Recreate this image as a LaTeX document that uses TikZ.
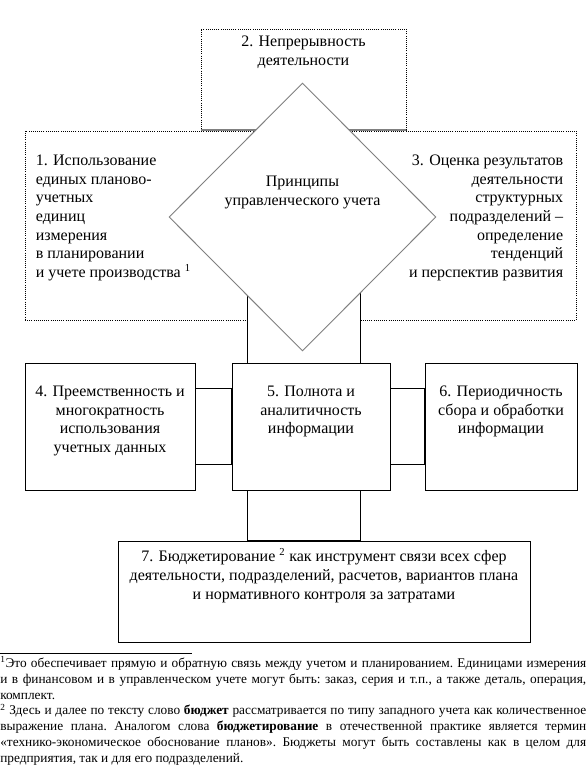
\documentclass[tikz,border=0pt]{standalone}
\usepackage{fontspec}
\setmainfont{Liberation Serif}
\usetikzlibrary{shapes.geometric, positioning, calc}
\newlength{\pxu}
\setlength{\pxu}{0.75pt}
\newcommand{\boxFont}{\fontsize{12}{14}\selectfont}
\newcommand{\noteFont}{\fontsize{10}{11.9}\selectfont\frenchspacing}
\pgfdeclarelayer{rows}
\pgfdeclarelayer{links}
\pgfsetlayers{rows,links,main}

\begin{document}
\begin{tikzpicture}[
        x=0.75pt, y=-0.75pt,
        dottedBox/.style={
            draw=black,
            densely dotted,
            fill=white,
            line width=0.6pt,
            inner sep=0pt
        },
        plainBox/.style={
            draw=black,
            fill=white,
            line width=0.6pt,
            inner sep=0pt
        },
        centerDiamond/.style={
            diamond,
            draw=gray,
            fill=white,
            line width=0.7pt,
            inner sep=0pt
        },
        linkFrame/.style={
            draw=black,
            fill=white,
            line width=0.6pt
        },
        boxText/.style={
            font=\boxFont,
            align=center,
            inner sep=0pt
        },
        noteText/.style={
            font=\noteFont,
            align=justify,
            text width=586\pxu,
            inner sep=0pt
        }
    ]

        \useasboundingbox (0,0) rectangle (586,768);

        % Upper row of principles
        \begin{pgfonlayer}{rows}
            \node[dottedBox, minimum width=205\pxu, minimum height=101\pxu] (b2) at (303.5,79.5) {};
            \node[dottedBox, minimum width=265\pxu, minimum height=189\pxu] (b1) at (157.5,225.5) {};
            \node[dottedBox, minimum width=260\pxu, minimum height=189\pxu] (b3) at (446,225.5) {};
            \draw[gray, line width=1.4pt] (b2.south west) -- (b2.south east);
        \end{pgfonlayer}

        % Central principle
        \node[centerDiamond,
            minimum width=267\pxu,
            minimum height=268\pxu] (dg) at (302.5,217) {};

        % Lower row of principles
        \node[plainBox, minimum width=170\pxu, minimum height=127\pxu] (b4) at (110,426.5) {};
        \node[plainBox, minimum width=158\pxu, minimum height=127\pxu] (b5) at (311,426.5) {};
        \node[plainBox, minimum width=152\pxu, minimum height=127\pxu] (b6) at (501,426.5) {};
        \node[plainBox, minimum width=412\pxu, minimum height=101\pxu] (b7) at (324,591.5) {};

        % Links between the boxes
        \begin{pgfonlayer}{links}
            \path[linkFrame] ($(dg.center)+(-55,0)$) rectangle ($(dg.center |- b7.north)+(58,0)$);
            \path[linkFrame] ($(b4.east)+(0,-38)$) rectangle ($(b5.west)+(0,38)$);
            \path[linkFrame] ($(b5.east)+(0,-38)$) rectangle ($(b6.west)+(0,38)$);
        \end{pgfonlayer}

        % Texts
        \node[boxText, below=7\pxu of b2.north] (t2) {2. Непрерывность\\деятельности};
        \node[boxText, align=left, below right=24\pxu and 11\pxu of b1.north west] (t1) {
            1. Использование\\единых планово-\\учетных\\единиц\\измерения\\в планировании\\и учете производства \textsuperscript{1}};
        \node[boxText, align=right, below left=24\pxu and 13\pxu of b3.north east] (t3) {
            3. Оценка результатов\\деятельности\\структурных\\подразделений –\\определение\\тенденций\\и перспектив развития};
        \node[boxText, above=8\pxu of dg.center] (tdg) {Принципы\\управленческого учета};
        \node[boxText, below=23\pxu of b4.north] (t4) {4. Преемственность и\\многократность\\использования\\учетных данных};
        \node[boxText, below=23\pxu of b5.north] (t5) {5. Полнота и\\аналитичность\\информации};
        \node[boxText, below=23\pxu of b6.north] (t6) {6. Периодичность\\сбора и обработки\\информации};
        \node[boxText, below=8\pxu of b7.north] (t7) {7. Бюджетирование \textsuperscript{2} как инструмент связи всех сфер\\деятельности, подразделений, расчетов, вариантов плана\\и нормативного контроля за затратами};

        % Footnotes
        \draw[line width=0.6pt] (0,653) -- (192,653);
        \node[noteText, anchor=north west] (notes) at (0,656) {\parindent=0pt\parskip=0pt
            \textsuperscript{1}Это обеспечивает прямую и обратную связь между учетом и планированием. Единицами измерения\linebreak
            и в финансовом и в управленческом учете могут быть: заказ, серия и т.п., а также деталь, операция,\linebreak
            комплект.\par
            \textsuperscript{2} Здесь и далее по тексту слово \textbf{бюджет} рассматривается по типу западного учета как количественное\linebreak
            выражение плана. Аналогом слова \textbf{бюджетирование} в отечественной практике является термин\linebreak
            «технико-экономическое обоснование планов». Бюджеты могут быть составлены как в целом для\linebreak
            предприятия, так и для его подразделений.};

    \end{tikzpicture}
\end{document}
